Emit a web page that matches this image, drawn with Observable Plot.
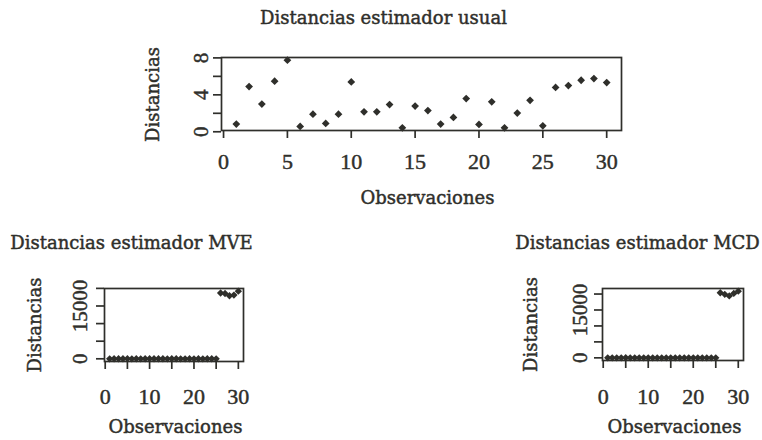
<!DOCTYPE html>
<html><head><meta charset="utf-8">
<script src="https://cdn.jsdelivr.net/npm/d3@7"></script>
<script src="https://cdn.jsdelivr.net/npm/@observablehq/plot@0.6"></script>
<style>
html,body{margin:0;padding:0;background:#fff;}
#wrap{position:relative;width:762px;height:440px;overflow:hidden;background:#fff;}
#wrap svg{position:absolute;}
</style></head><body><div id="wrap"></div>
<script>
// ---- data ----
const observaciones = [1,2,3,4,5,6,7,8,9,10,11,12,13,14,15,16,17,18,19,20,21,22,23,24,25,26,27,28,29,30];
const distUsual = [0.83,4.9,3.0,5.48,7.75,0.58,1.91,0.9,1.91,5.4,2.16,2.16,2.95,0.43,2.78,2.3,0.83,1.55,3.6,0.8,3.24,0.43,2.03,3.4,0.65,4.8,5.0,5.58,5.76,5.33];
const distMVE = [1.4,9.8,6.1,12.3,25.6,1.1,3.9,1.6,3.5,11.2,4.0,4.1,6.3,0.9,5.8,4.7,1.5,2.9,7.6,1.4,6.8,0.8,4.2,7.1,1.2,18700,18550,17900,18100,19200];
const distMCD = [1.5,10.4,6.5,13.1,27.2,1.2,4.1,1.7,3.8,11.9,4.3,4.4,6.7,1.0,6.2,5.0,1.6,3.1,8.1,1.5,7.2,0.9,4.5,7.6,1.3,20400,19900,19400,20200,20900];
const titles = ["Distancias estimador usual","Distancias estimador MVE","Distancias estimador MCD"];
const xLabel = "Observaciones";
const yLabel = "Distancias";
const xTicksTop = [0,5,10,15,20,25,30];
const xTicksBottom = [0,10,20,30];
const xTickMarksBottom = [0,5,10,15,20,25,30];
const yTicksTop = [0,2,4,6,8];
const yLabelsTop = [0,4,8];
const yTicksBottom = [0,5000,10000,15000,20000];
const yLabelsBottom = [0,15000];

const INK = "#2f2f2b";
const SERIF_T = "DejaVu Serif";
const SERIF_N = "Liberation Serif";
const TXT = {fill:INK, stroke:INK, strokeWidth:0.45};

function ext(vals){ // R-style 4% range extension
  const [a,b] = d3.extent(vals); const r = b - a; return [a - 0.04*r, b + 0.04*r];
}

function panel(o){
  const data = observaciones.map((d,i)=>({obs:d, dist:o.values[i]}));
  const fl = o.ml, fr = o.width - o.mr, ft = o.mt, fb = o.height - o.mb;
  const fcx = (fl+fr)/2, fcy = (ft+fb)/2;
  const p = Plot.plot({
    width:o.width, height:o.height,
    marginLeft:o.ml, marginRight:o.mr, marginTop:o.mt, marginBottom:o.mb,
    style:{fontFamily:SERIF_N, background:"transparent", color:INK, overflow:"visible"},
    x:{domain:ext(observaciones)},
    y:{domain:ext(o.values)},
    marks:[
      Plot.frame({stroke:INK, strokeWidth:1.7}),
      Plot.axisX({ticks:o.xTickMarks, tickSize:8, tickFormat:()=>"", label:null, stroke:INK, strokeWidth:1.7}),
      Plot.text(o.xTicks, {x:d=>d, text:d=>String(d), frameAnchor:"bottom", dy:o.xTickDy, fontSize:22, fontFamily:SERIF_N, lineAnchor:"middle", ...TXT}),
      Plot.axisY({ticks:o.yTicks, tickSize:8, tickFormat:()=>"", label:null, stroke:INK, strokeWidth:1.7}),
      Plot.text(o.yLabels, {y:d=>d, text:d=>String(d), frameAnchor:"left", dx:-o.yTickDx, rotate:-90, textAnchor:"middle", lineAnchor:"middle", fontSize:21, fontFamily:SERIF_N, ...TXT}),
      Plot.dot(data, {x:"obs", y:"dist", symbol:"diamond2", r:o.r, fill:INK, stroke:"none"}),
      Plot.text([o.title], {frameAnchor:"top", dx:o.titleX - fcx, dy:o.titleY - ft, fontSize:18, fontFamily:SERIF_T, lineAnchor:"middle", ...TXT}),
      Plot.text([xLabel], {frameAnchor:"bottom", dx:o.xlabX - fcx, dy:o.xlabY - fb, fontSize:18, fontFamily:SERIF_T, lineAnchor:"middle", ...TXT}),
      Plot.text([yLabel], {frameAnchor:"left", dx:o.ylabX - fl, dy:o.ylabY - fcy, rotate:-90, fontSize:18, fontFamily:SERIF_T, textAnchor:"middle", lineAnchor:"middle", ...TXT})
    ]
  });
  p.style.left = o.left + "px"; p.style.top = o.top + "px";
  document.getElementById("wrap").appendChild(p);
}

// top panel: frame 221..621 x 57..130
panel({left:0, top:0, width:762, height:215, ml:221, mr:141, mt:57, mb:85,
  values:distUsual, xTicks:xTicksTop, xTickMarks:xTicksTop, xTickDy:31, yTicks:yTicksTop, yLabels:yLabelsTop, yTickDx:20, r:3.5,
  title:titles[0], titleX:383, titleY:18, xlabX:427, xlabY:198, ylabX:153, ylabY:94});
// bottom-left panel: frame 104..243 x 288..361
panel({left:0, top:215, width:381, height:225, ml:104, mr:138, mt:73, mb:79,
  values:distMVE, xTicks:xTicksBottom, xTickMarks:xTickMarksBottom, xTickDy:35, yTicks:yTicksBottom, yLabels:yLabelsBottom, yTickDx:24, r:3.3,
  title:titles[1], titleX:131, titleY:28, xlabX:175, xlabY:212, ylabX:35, ylabY:109.5});
// bottom-right panel: frame 602..743 x 288..360 (local x offset 381)
panel({left:381, top:215, width:381, height:225, ml:221, mr:19, mt:73, mb:80,
  values:distMCD, xTicks:xTicksBottom, xTickMarks:xTickMarksBottom, xTickDy:36, yTicks:yTicksBottom, yLabels:yLabelsBottom, yTickDx:22.5, r:3.3,
  title:titles[2], titleX:256, titleY:28, xlabX:293, xlabY:212, ylabX:150, ylabY:109});
</script></body></html>
